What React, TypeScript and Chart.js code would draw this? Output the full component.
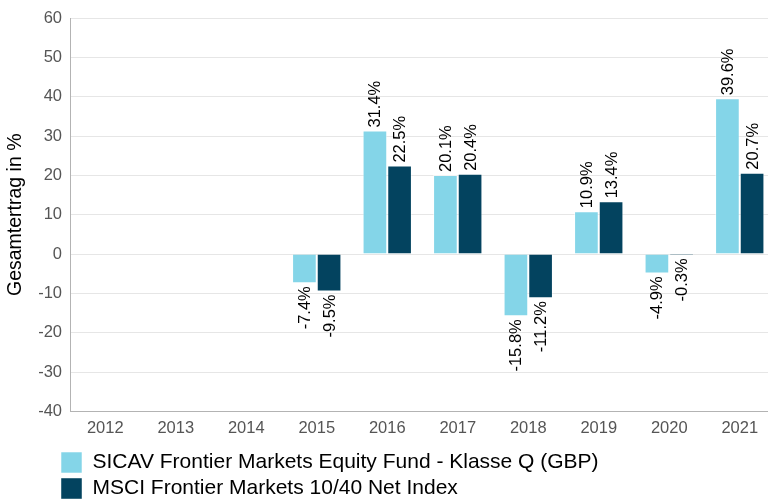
import React, { useEffect, useRef } from "react";
import { Chart, registerables } from "chart.js";

Chart.register(...registerables);

const years = ["2012", "2013", "2014", "2015", "2016", "2017", "2018", "2019", "2020", "2021"];
const fundName = "SICAV Frontier Markets Equity Fund - Klasse Q (GBP)";
const indexName = "MSCI Frontier Markets 10/40 Net Index";
const fundValues = [null, null, null, -7.4, 31.4, 20.1, -15.8, 10.9, -4.9, 39.6];
const indexValues = [null, null, null, -9.5, 22.5, 20.4, -11.2, 13.4, -0.3, 20.7];
const yTitle = "Gesamtertrag in %";

const FONT = "'Liberation Sans', Arial, sans-serif";

const barLabels = {
  id: "barLabels",
  afterDatasetsDraw(chart: any) {
    const ctx = chart.ctx;
    ctx.save();
    ctx.font = `16.5px ${FONT}`;
    ctx.fillStyle = "#000";
    ctx.textBaseline = "middle";
    chart.data.datasets.forEach((ds: any, di: number) => {
      const meta = chart.getDatasetMeta(di);
      meta.data.forEach((el: any, i: number) => {
        const v = ds.data[i];
        if (v === null || v === undefined) return;
        const txt = v.toFixed(1) + "%";
        ctx.save();
        if (v >= 0) {
          ctx.translate(el.x, el.y - 3);
          ctx.rotate(-Math.PI / 2);
          ctx.textAlign = "left";
        } else {
          ctx.translate(el.x, el.y + 3);
          ctx.rotate(-Math.PI / 2);
          ctx.textAlign = "right";
        }
        ctx.fillText(txt, 0, 1);
        ctx.restore();
      });
    });
    ctx.restore();
  },
};

const shiftLegend = {
  id: "shiftLegend",
  afterLayout(chart: any) {
    const l = chart.legend;
    if (!l) return;
    const dy = 452 - (l.top + 5);
    l.left += 56;
    l.right += 56;
    l.top += dy;
    l.bottom += dy;
  },
};

export default function App() {
  const ref = useRef<HTMLCanvasElement | null>(null);
  useEffect(() => {
    if (!ref.current) return;
    const chart = new Chart(ref.current, {
      type: "bar",
      data: {
        labels: years,
        datasets: [
          {
            label: fundName,
            data: fundValues as any,
            backgroundColor: "#84D5E8",
            borderColor: "rgba(255,255,255,0.55)",
            borderWidth: 1,
          },
          {
            label: indexName,
            data: indexValues as any,
            backgroundColor: "#03435F",
            borderColor: "rgba(255,255,255,0.45)",
            borderWidth: 1,
          },
        ],
      },
      options: {
        animation: false,
        responsive: false,
        maintainAspectRatio: false,
        layout: { padding: { top: 18, left: 0, right: 1, bottom: 2.5 } },
        datasets: { bar: { categoryPercentage: 0.7, barPercentage: 1.0 } },
        scales: {
          x: {
            afterFit: (s: any) => {
              s.height = 25;
            },
            grid: { display: false, drawTicks: false },
            border: { display: true, color: "#b3b3b3" },
            ticks: { padding: 7, color: "#555", font: { family: FONT, size: 16.5 } },
          },
          y: {
            min: -40,
            max: 60,
            afterFit: (s: any) => {
              s.width = 70;
            },
            grid: { color: "#e6e6e6", drawTicks: false },
            border: { display: true, color: "#b3b3b3" },
            ticks: { stepSize: 10, padding: 8, color: "#555", font: { family: FONT, size: 16.5 } },
            title: {
              display: true,
              text: yTitle,
              color: "#000",
              font: { family: FONT, size: 19.5 },
              padding: { top: 4, bottom: 0 },
            },
          },
        },
        plugins: {
          legend: {
            position: "bottom",
            align: "start",
            labels: {
              boxWidth: 21,
              boxHeight: 21,
              padding: 5,
              color: "#000",
              font: { family: FONT, size: 21 },
            },
          },
          tooltip: { enabled: false },
        },
      },
      plugins: [barLabels, shiftLegend],
    });
    return () => chart.destroy();
  }, []);
  return (
    <div style={{ position: "absolute", left: 0, top: 0, width: 776, height: 501, overflow: "hidden" }}>
      <canvas ref={ref} width={776} height={501} style={{ display: "block" }} />
    </div>
  );
}
